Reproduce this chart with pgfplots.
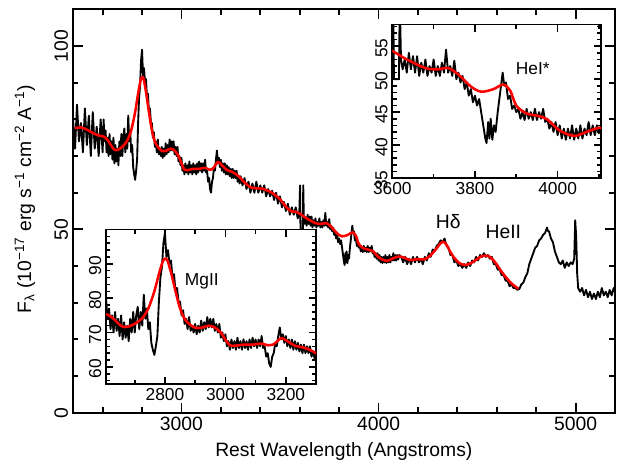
\documentclass[border=0pt]{standalone}
\usepackage{fontspec}
\setmainfont{Liberation Sans}
\usepackage{pgfplots}
\usepackage{pgfplotstable}
\pgfplotsset{compat=1.18}

% observed spectrum (rest wavelength, flux)
\pgfplotstableread{
w f
2450 80
2460 72
2470 84
2480 74
2490 79
2500 71
2510 83
2520 73
2530 81
2540 70
2550 82
2560 72
2570 78
2580 70
2590 80
2600 71
2605 80
2610 74
2615 77
2620 71
2625 75
2630 70
2635 76
2640 70.5
2645 74
2650 69
2655 75
2660 68
2665 73
2670 68.5
2675 72
2680 67.5
2685 74
2690 70
2695 76
2700 70
2705 75
2710 77.5
2715 71
2720 76
2725 72
2730 81
2735 74
2740 77
2745 71
2750 73
2755 67
2760 65
2765 63.5
2770 66
2775 69
2780 79
2785 86
2790 89
2795 96
2800 99
2805 92
2810 94
2815 90
2820 91
2825 86
2830 87
2835 82
2840 83
2845 79
2850 79
2855 75
2860 76.5
2865 72.5
2870 74
2875 71
2880 74.5
2885 70.5
2890 72
2895 70
2900 72.5
2905 69.5
2910 72
2915 70
2920 73.5
2925 70.5
2930 73
2935 71
2940 74.5
2945 71.5
2950 74
2955 71.5
2960 74
2965 70.5
2970 72.5
2975 70
2980 72.5
2985 68.5
2990 70
2995 67.5
3000 69.5
3005 66
3010 67.5
3015 65
3020 68
3025 65.5
3030 67.5
3035 65
3040 68.5
3045 65.5
3050 67.5
3055 65
3060 68
3065 65.5
3070 67.5
3075 65
3080 68
3085 65.5
3090 68.5
3095 66
3100 68
3105 65.5
3110 68
3115 66
3120 69
3125 65.5
3130 66
3135 63
3140 64
3145 61
3150 60
3155 63
3160 64
3165 67
3170 66
3175 69
3180 71.5
3185 68
3190 69.5
3195 67
3200 69
3205 66
3210 68
3215 65.5
3220 68
3225 65
3230 67.5
3235 65
3240 67
3245 64.5
3250 66.5
3255 64
3260 66.5
3265 64
3270 66
3275 64
3280 66
3285 63
3290 64.5
3295 62.5
3300 64.5
3310 62
3320 64
3330 61
3340 63
3350 60
3360 62.5
3370 60
3380 63
3390 60
3400 62
3410 60
3420 62
3430 59
3440 61
3450 59
3460 60.5
3470 58
3480 60
3490 57
3500 59
3510 56
3520 57.5
3530 55
3540 57
3550 54
3560 56
3570 54
3580 56
3590 53
3598 54.5
3602 62
3604 50
3616 50
3618 62
3621 53
3625 51.5
3630 53
3635 51
3640 54
3645 51.5
3650 53.5
3655 51
3660 53.5
3665 50.5
3670 52.5
3675 51
3680 53
3685 50.5
3690 52
3695 51
3700 53
3705 50.5
3710 52
3715 50.5
3720 52.5
3725 51
3730 54.5
3735 51
3740 52
3745 50.5
3750 52.8
3755 50
3760 51
3765 49.5
3770 50.5
3775 48.5
3780 49.5
3785 47.5
3790 48.5
3795 46.5
3800 47.5
3805 46
3810 47
3815 45
3820 43
3825 41
3828 40.3
3832 43.5
3835 41
3838 44
3842 40.8
3846 43
3850 42
3855 45
3860 47.5
3863 49
3867 51
3871 49
3875 49.5
3880 47
3885 47.5
3890 45.5
3895 46
3900 45
3905 45.5
3910 44
3915 45
3920 43.8
3925 45.5
3930 44
3935 45
3940 43.8
3945 45.5
3950 43.8
3955 45
3960 44
3965 45.5
3970 43.5
3975 44
3980 42.5
3985 43.5
3990 42
3995 43.5
4000 41.5
4005 43
4010 41
4015 42.5
4020 40.8
4025 42.5
4030 41
4035 43
4040 40.8
4045 42.5
4050 41
4055 43
4060 41
4065 42.5
4070 41.5
4075 43.5
4080 41.5
4085 43
4090 41.5
4095 43
4100 41.8
4105 43
4115 42.5
4125 41
4135 42.5
4145 40.5
4155 42
4165 40.5
4175 42.5
4185 41
4195 42.5
4205 41
4215 42
4225 40.5
4235 42.5
4245 41.5
4255 43.5
4265 42.5
4275 44.5
4285 44
4295 45.5
4305 46
4315 47
4325 46.5
4335 47.5
4345 45.5
4355 45
4365 43
4375 43
4385 41
4395 41.5
4405 40
4415 40.5
4425 39.5
4435 40.5
4445 39.5
4455 41
4465 40
4475 41.5
4485 41
4495 42.5
4505 41.5
4515 43
4525 42.5
4535 43.5
4545 42.5
4555 43
4565 42
4575 42.5
4585 40.5
4595 40.5
4605 39
4615 39
4625 37.5
4635 37.5
4645 36
4655 36
4665 34.5
4675 35
4685 34
4695 34
4705 33.5
4715 33.8
4725 35
4735 35.5
4745 37
4755 38
4765 40.5
4775 42
4785 43.5
4795 45
4805 45.5
4815 47
4825 47.5
4835 48.5
4845 49
4855 50.5
4860 49.5
4865 49.5
4875 47.5
4885 46.5
4895 44
4905 42.5
4915 41
4925 40.5
4935 41.5
4945 39.5
4955 41
4965 40
4975 41
4985 40.5
4993 42
4998 52.5
5003 48
5008 38
5013 34
5023 33
5033 34
5043 32
5053 33.5
5063 31.5
5073 33
5083 31
5093 32.5
5103 31
5113 33
5123 31.5
5133 34
5143 32
5153 33
5163 31.5
5173 33.5
5183 32
5193 34
5203 32.5
}\spec

% smooth model
\pgfplotstableread{
w f
2460 77.6
2490 77.8
2520 77.2
2550 76.3
2580 75.6
2610 75.2
2630 74.0
2650 72.3
2665 71.6
2685 71.9
2705 72.8
2725 74.2
2745 77.0
2765 82.0
2780 87.0
2792 90.5
2800 91.5
2808 91.0
2820 87.5
2835 82.0
2850 77.0
2865 74.0
2880 72.5
2900 71.4
2920 71.4
2945 72.0
2965 71.5
2985 70.0
3000 68.0
3015 66.3
3035 66.2
3060 66.5
3090 66.5
3120 66.8
3140 66.3
3160 66.6
3185 68.4
3205 67.5
3230 66.2
3260 65.6
3290 64.5
3320 62.8
3350 61.5
3380 61.2
3410 61.1
3440 60.5
3470 59.6
3500 58.2
3530 56.2
3555 55.0
3580 54.8
3600 54.3
3635 53.0
3680 51.7
3710 51.5
3735 51.7
3760 50.7
3790 48.9
3815 48.1
3845 48.5
3868 49.2
3885 48.3
3900 46.0
3925 44.8
3955 44.4
3975 43.9
4005 42.2
4040 41.4
4070 42.0
4100 42.6
4130 42.3
4160 41.6
4195 41.9
4230 41.8
4260 42.7
4290 44.5
4315 46.2
4330 46.6
4345 45.8
4365 43.8
4385 42.2
4410 40.8
4440 40.3
4470 40.8
4500 41.9
4525 42.7
4550 42.8
4570 42.3
4595 40.8
4620 38.8
4650 36.7
4680 35.0
4710 33.8
}\redfit

\pgfplotsset{
  spec/.style={black, line width=1.4pt, line join=round},
  model/.style={red, line width=1.9pt, smooth, line join=round},
}

\begin{document}
\begin{tikzpicture}
\path[use as bounding box] (-54.5pt,-42.3pt) rectangle (412.7pt,309.5pt);

\begin{axis}[at={(0,0)}, anchor=south west, scale only axis,
  width=406.7pt, height=302.5pt,
  xmin=2448, xmax=5200, ymin=0, ymax=110,
  xtick={3000,4000,5000}, minor xtick={2600,2800,...,5200},
  ytick={0,50,100}, minor ytick={10,20,...,110},
  major tick length=7.5pt, minor tick length=4.2pt,
  tick style={line width=1.4pt, black},
  axis line style={line width=1.6pt},
  /pgf/number format/assume math mode=true,
  /pgf/number format/set thousands separator={},
  tick label style={font=\fontsize{14.5}{16}\selectfont},
  yticklabel style={rotate=90, anchor=south},
  xlabel={Rest Wavelength (Angstroms)},
  ylabel={F\textsubscript{λ} (10\textsuperscript{−17} erg s\textsuperscript{−1} cm\textsuperscript{−2} A\textsuperscript{−1})},
  label style={font=\fontsize{14.5}{16}\selectfont},
  xlabel style={at={(axis description cs:0.5,-0.095)}, anchor=center},
  ylabel style={at={(axis description cs:-0.088,0.53)}, anchor=center},
]
\addplot[spec] table[x=w, y=f] {\spec};
\addplot[model] table[x=w, y=f] {\redfit};
\node[font=\fontsize{14.5}{16}\selectfont] at (axis cs:4354,52.1) {Hδ};
\node[font=\fontsize{14.5}{16}\selectfont] at (axis cs:4633,49.3) {HeII};
\end{axis}

% inset: Mg II region
\begin{axis}[at={(25pt,21.45pt)}, anchor=south west, scale only axis,
  width=157.5pt, height=116pt,
  xmin=2605, xmax=3300, ymin=55, ymax=100,
  xtick={2800,3000,3200}, minor xtick={2700,2900,3100,3300},
  ytick={60,70,80,90}, minor ytick={56,58,...,98},
  major tick length=5.5pt, minor tick length=3.2pt,
  tick style={line width=1.2pt, black},
  axis line style={line width=1.4pt},
  axis background/.style={fill=white},
  /pgf/number format/assume math mode=true,
  /pgf/number format/set thousands separator={},
  tick label style={font=\fontsize{13}{15}\selectfont},
  yticklabel style={rotate=90, anchor=south, xshift=-1.5pt},
]
\addplot[spec] table[x=w, y=f] {\spec};
\addplot[model] table[x=w, y=f] {\redfit};
\node[font=\fontsize{13}{15}\selectfont] at (axis cs:2922,84.9) {MgII};
\end{axis}

% inset: He I* region
\begin{axis}[at={(239.7pt,176pt)}, anchor=south west, scale only axis,
  width=156.5pt, height=115.1pt,
  xmin=3600, xmax=4105, ymin=35, ymax=58.3,
  xtick={3600,3800,4000}, minor xtick={3700,3900,4100},
  ytick={35,40,45,50,55}, minor ytick={36,37,...,58},
  major tick length=5.5pt, minor tick length=3.2pt,
  tick style={line width=1.2pt, black},
  axis line style={line width=1.4pt},
  axis background/.style={fill=white},
  /pgf/number format/assume math mode=true,
  /pgf/number format/set thousands separator={},
  tick label style={font=\fontsize{13}{15}\selectfont},
  yticklabel style={rotate=90, anchor=south, xshift=-1.5pt},
]
\addplot[spec] table[x=w, y=f] {\spec};
\addplot[model] table[x=w, y=f] {\redfit};
\node[font=\fontsize{13}{15}\selectfont] at (axis cs:3940,51.6) {HeI*};
\end{axis}
\end{tikzpicture}
\end{document}
